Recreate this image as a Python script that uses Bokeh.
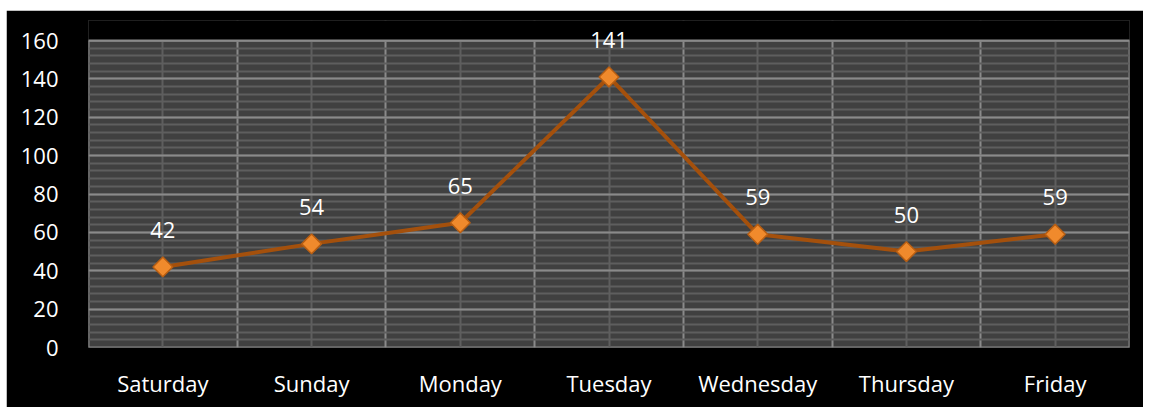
import math
from bokeh.plotting import figure
from bokeh.models import FixedTicker, ColumnDataSource, Label, BoxAnnotation, Span
from bokeh.embed import file_html
from bokeh.resources import INLINE

days = ["Saturday", "Sunday", "Monday", "Tuesday", "Wednesday", "Thursday", "Friday"]
counts = [42, 54, 65, 141, 59, 50, 59]
y_ticks = [0, 20, 40, 60, 80, 100, 120, 140, 160]

xs = [i + 0.5 for i in range(len(days))]
src = ColumnDataSource(dict(x=xs, y=counts))

FONT = "Open Sans"
Y_MAX = y_ticks[-1]
# frame reaches 20px above the 160 line so the top data label is not clipped
y_end = Y_MAX * 327 / 307

p = figure(width=1137, height=397, x_range=(0, len(days)), y_range=(0, y_end),
           output_backend="svg", toolbar_location=None,
           background_fill_color="#000000", border_fill_color="#000000",
           min_border_left=82, min_border_right=14, min_border_top=10, min_border_bottom=60)
p.styles = {"margin-top": "10px", "margin-left": "6px"}
p.outline_line_color = None

# plot area panel
p.add_layout(BoxAnnotation(left=0, right=len(days), bottom=0, top=Y_MAX, level="image",
                           fill_color="#404040", fill_alpha=1.0,
                           line_color="#8a8a8a", line_width=2, line_alpha=1.0))

# axes
p.xaxis.ticker = FixedTicker(ticks=xs)
p.xaxis.major_label_overrides = {x: d for x, d in zip(xs, days)}
p.yaxis.ticker = FixedTicker(ticks=y_ticks)
for ax in (p.xaxis[0], p.yaxis[0]):
    ax.axis_line_color = None
    ax.major_tick_line_color = None
    ax.minor_tick_line_color = None
    ax.major_label_text_color = "#ffffff"
    ax.major_label_text_font = FONT
    ax.major_label_text_font_size = "22px"
p.xaxis.major_label_standoff = 14
p.yaxis.major_label_standoff = 24

# grids
p.xgrid.ticker = FixedTicker(ticks=list(range(len(days) + 1)), minor_ticks=xs)
p.xgrid.grid_line_color = "#8a8a8a"
p.xgrid.grid_line_width = 2
p.xgrid.minor_grid_line_color = "#5e5e5e"
p.xgrid.minor_grid_line_width = 2

p.ygrid.ticker = FixedTicker(ticks=y_ticks, minor_ticks=list(range(0, Y_MAX + 1, 4)))
p.ygrid.grid_line_color = "#8a8a8a"
p.ygrid.grid_line_width = 2
p.ygrid.minor_grid_line_color = "#5e5e5e"
p.ygrid.minor_grid_line_width = 2

# black cover above the 160 line (hides grid lines there)
p.add_layout(BoxAnnotation(left=-1, right=len(days) + 1, bottom=Y_MAX, top=y_end * 1.2,
                           level="underlay", fill_color="#000000", fill_alpha=1.0,
                           line_color=None))
p.add_layout(Span(location=Y_MAX, dimension="width", line_color="#8a8a8a",
                  line_width=2, level="underlay"))

# data
p.line("x", "y", source=src, line_color="#A4500C", line_width=4)
p.scatter("x", "y", source=src, marker="square", angle=math.pi / 4, size=14,
          fill_color="#F08A2C", line_color="#B85E12", line_width=1.5)
for x, c in zip(xs, counts):
    p.add_layout(Label(x=x, y=c, text=str(c), text_color="#ffffff",
                       text_font=FONT, text_font_size="22px", text_align="center",
                       text_baseline="middle", y_offset=37))

open("out.html", "w").write(file_html(p, INLINE))
